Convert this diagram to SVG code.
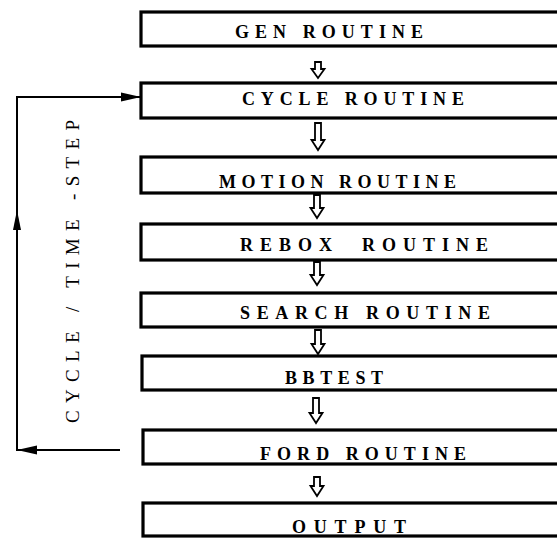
<svg xmlns="http://www.w3.org/2000/svg" width="557" height="538" viewBox="0 0 557 538">
<style>
.box{fill:#fff;stroke:#000;stroke-width:3.2}
.lbl{font-family:"Liberation Serif","Times New Roman",serif;font-weight:bold;font-size:18px;fill:#000}
.side{font-family:"Liberation Serif","Times New Roman",serif;font-size:19px;fill:#000}
.flow{fill:#fff;stroke:#000;stroke-width:1.8;stroke-linejoin:miter}
.conn{fill:none;stroke:#000;stroke-width:2}
</style>
<defs>
<marker id="ah" markerWidth="20" markerHeight="10" refX="19" refY="5" orient="auto" markerUnits="userSpaceOnUse">
<path d="M0,0.5 L20,5 L0,9.5 Z" fill="#000"/>
</marker>
</defs>
<rect width="557" height="538" fill="#fff"/>
<g id="gen"><rect class="box" x="141" y="12" width="430" height="34"/><text class="lbl" x="235" y="38" textLength="188" lengthAdjust="spacing">GEN ROUTINE</text></g>
<g id="cycle"><rect class="box" x="141" y="83" width="430" height="35"/><text class="lbl" x="242" y="105" textLength="222" lengthAdjust="spacing">CYCLE ROUTINE</text></g>
<g id="motion"><rect class="box" x="141" y="157" width="430" height="36"/><text class="lbl" x="219" y="188" textLength="237" lengthAdjust="spacing">MOTION ROUTINE</text></g>
<g id="rebox"><rect class="box" x="141" y="224" width="430" height="36"/><text class="lbl" x="240" y="251" textLength="248" lengthAdjust="spacing" xml:space="preserve">REBOX  ROUTINE</text></g>
<g id="search"><rect class="box" x="141" y="293" width="430" height="34"/><text class="lbl" x="240" y="319" textLength="250" lengthAdjust="spacing">SEARCH ROUTINE</text></g>
<g id="bbtest"><rect class="box" x="142" y="356" width="430" height="34"/><text class="lbl" x="285" y="384" textLength="98" lengthAdjust="spacing">BBTEST</text></g>
<g id="ford"><rect class="box" x="143" y="430" width="430" height="34"/><text class="lbl" x="260" y="460" textLength="206" lengthAdjust="spacing">FORD ROUTINE</text></g>
<g id="output"><rect class="box" x="143" y="503" width="430" height="33"/><text class="lbl" x="292" y="533" textLength="114" lengthAdjust="spacing">OUTPUT</text></g>
<g id="connectors">
<path class="flow" d="M315,62 h6 v7 h3.5 l-6.5,9 l-6.5,-9 h3.5 z"/>
<path class="flow" d="M315,123 h6 v17 h3.5 l-6.5,10 l-6.5,-10 h3.5 z"/>
<path class="flow" d="M314,195 h6 v13 h3.5 l-6.5,10 l-6.5,-10 h3.5 z"/>
<path class="flow" d="M314,262 h6 v13 h3.5 l-6.5,10 l-6.5,-10 h3.5 z"/>
<path class="flow" d="M315,330 h6 v14 h3.5 l-6.5,10 l-6.5,-10 h3.5 z"/>
<path class="flow" d="M313,398 h6 v15 h3.5 l-6.5,10 l-6.5,-10 h3.5 z"/>
<path class="flow" d="M314,477 h6 v9 h3.5 l-6.5,10 l-6.5,-10 h3.5 z"/>
<path class="conn" d="M120,450 H18" marker-end="url(#ah)"/>
<path class="conn" d="M17,451 V97 H140" marker-end="url(#ah)"/>
<path d="M17,210 L21,230 L13,230 Z" fill="#000"/>
</g>
<text class="side" transform="translate(79,423) rotate(-90)" x="0" y="0" textLength="303" lengthAdjust="spacing">CYCLE / TIME -STEP</text>
</svg>
